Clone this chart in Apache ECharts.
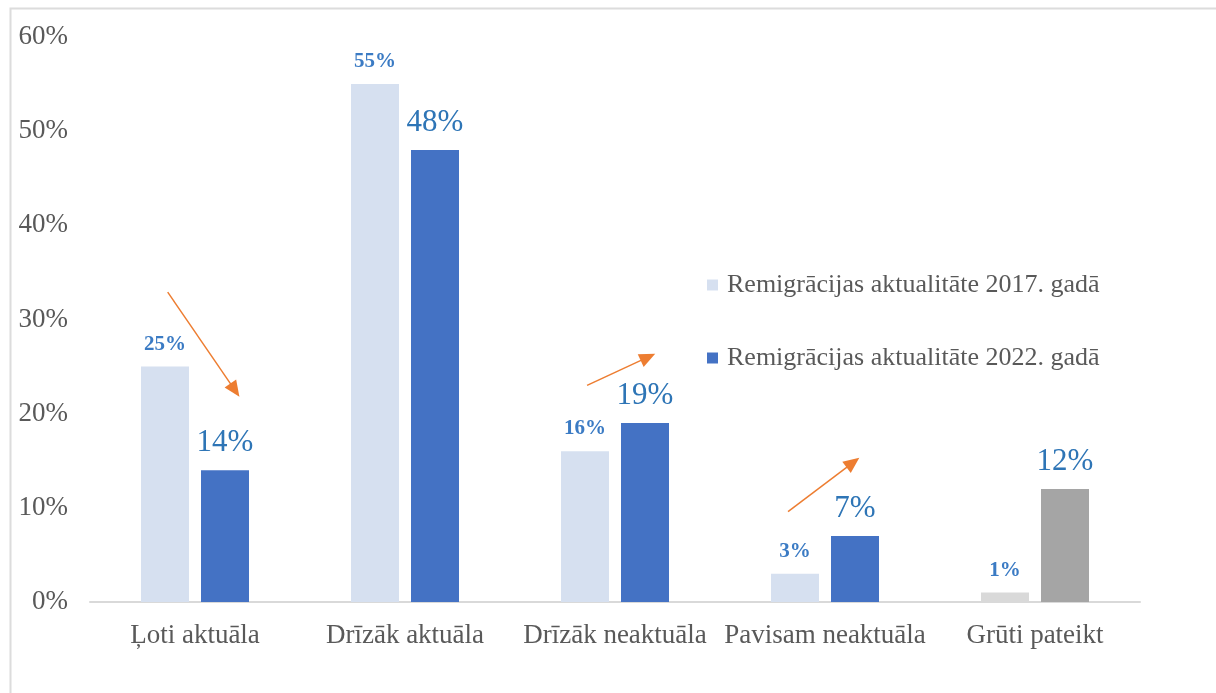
<!DOCTYPE html>
<html>
<head>
<meta charset="utf-8">
<script src="https://cdn.jsdelivr.net/npm/echarts@6/dist/echarts.min.js"></script>
<style>
  html, body { margin: 0; padding: 0; background: #fff; }
  #chart { width: 1216px; height: 693px; }
</style>
</head>
<body>
<div id="chart"></div>
<script>
// kategorijas un vērtības (%)
const categories = ['Ļoti aktuāla', 'Drīzāk aktuāla', 'Drīzāk neaktuāla', 'Pavisam neaktuāla', 'Grūti pateikt']
const values2017 = [25, 55, 16, 3, 1]
const values2022 = [14, 48, 19, 7, 12]
const seriesNames = ['Remigrācijas aktualitāte 2017. gadā', 'Remigrācijas aktualitāte 2022. gadā']
// bultas: [sākums x, y], [gals x, y] datu koordinātēs (x = kategorijas indekss)
const arrows = [
  [[-0.13, 32.9], [0.19, 22.5]],
  [[0.84, 61.8], [1.157, 53.5]],
  [[1.867, 23.0], [2.157, 26.0]],
  [[2.824, 9.6], [3.133, 14.8]]
]

const font = 'Liberation Serif, Times New Roman, serif'
const chart = echarts.init(document.getElementById('chart'))

const option = {
  animation: false,
  textStyle: { fontFamily: font },
  graphic: [{
    type: 'rect',
    left: 8, top: 6,
    shape: { width: 1230, height: 686 },
    style: { fill: 'none', stroke: '#dcdcdc', lineWidth: 2 },
    silent: true
  }],
  grid: { left: 90, right: 76, top: 37, bottom: 91 },
  legend: {
    orient: 'vertical',
    left: 702, top: 267,
    itemGap: 47,
    itemWidth: 11, itemHeight: 11,
    icon: 'rect',
    textStyle: { fontFamily: font, fontSize: 26, color: '#595959', padding: [0, 0, 0, 4] },
    data: seriesNames
  },
  xAxis: [{
    type: 'category',
    data: categories,
    axisTick: { show: false },
    axisLine: { lineStyle: { color: '#d9d9d9', width: 2 } },
    axisLabel: { interval: 0, fontFamily: font, fontSize: 27, color: '#595959', margin: 20 }
  }, {
    type: 'value',
    min: -0.5, max: 4.5,
    show: false
  }],
  yAxis: {
    type: 'value',
    min: 0, max: 60, interval: 10,
    splitLine: { show: false },
    axisLine: { show: false, onZero: false },
    axisTick: { show: false },
    axisLabel: { formatter: '{value}%', fontFamily: font, fontSize: 27, color: '#595959', margin: 22 }
  },
  series: [{
    name: seriesNames[0],
    type: 'bar',
    barWidth: 48,
    barGap: '25%',
    itemStyle: { color: '#d6e0f0' },
    label: {
      show: true, position: 'top', distance: 12,
      formatter: '{c}%',
      fontFamily: font, fontSize: 21, fontWeight: 'bold', color: '#3b7bc4'
    },
    data: values2017.map((v, i) => i === 4 ? { value: v, itemStyle: { color: '#d9d9d9' } } : v)
  }, {
    name: seriesNames[1],
    type: 'bar',
    barWidth: 48,
    itemStyle: { color: '#4472c4' },
    label: {
      show: true, position: 'top', distance: 12,
      formatter: '{c}%',
      fontFamily: font, fontSize: 31, color: '#2e75b6'
    },
    data: values2022.map((v, i) => i === 4 ? { value: v, itemStyle: { color: '#a5a5a5' } } : v)
  }, {
    type: 'line',
    xAxisIndex: 1,
    data: [],
    silent: true,
    markLine: {
      silent: true,
      symbol: ['none', 'triangle'],
      symbolSize: [14, 16],
      label: { show: false },
      lineStyle: { color: '#ed7d31', width: 1.5, type: 'solid' },
      data: arrows.map(a => [{ coord: a[0] }, { coord: a[1] }])
    }
  }]
}
chart.setOption(option)
</script>
</body>
</html>
